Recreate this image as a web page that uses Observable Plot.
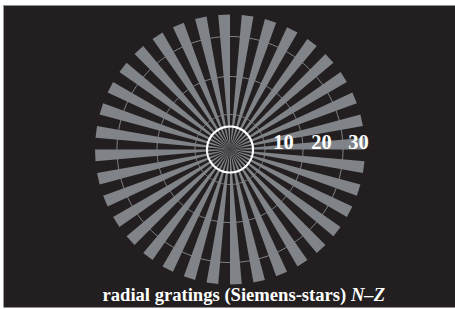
<!DOCTYPE html>
<html>
<head>
<meta charset="utf-8">
<script src="https://cdn.jsdelivr.net/npm/d3@7"></script>
<script src="https://cdn.jsdelivr.net/npm/@observablehq/plot@0.6"></script>
<style>
  html, body { margin: 0; padding: 0; background: #ffffff; }
  #chart svg { display: block; }
</style>
</head>
<body>
<div id="chart"></div>
<script>
// ---- data ----
const spokeCount = 36;          // number of grey wedges
const spokeWidthDeg = 5;        // angular width of each wedge
const spokeOffsetDeg = 0;       // first wedge starts at 0°
const outerRadius = 135;        // wedge length
const ringRadii = [35, 73, 113];        // thin guide circles
const hubRadius = 23;                   // white inner circle
const ringLabels = ["10", "20", "30"];
const labelRadii = [53.5, 91.5, 128.5];
const captionMain = "radial gratings (Siemens-stars) ";
const captionItalic = "N\u2013Z";

// ---- styles ----
const bg = "#231f20";
const grey = "#808387";
const serif = "'Liberation Serif', 'DejaVu Serif', serif";

// ---- geometry built from the data ----
const rad = d => d * Math.PI / 180;
const spokes = [];
for (let k = 0; k < spokeCount; k++) {
  const a1 = rad(spokeOffsetDeg + k * 360 / spokeCount);
  const a2 = a1 + rad(spokeWidthDeg);
  spokes.push({k, x: 0, y: 0});
  spokes.push({k, x: outerRadius * Math.cos(a1), y: outerRadius * Math.sin(a1)});
  spokes.push({k, x: outerRadius * Math.cos(a2), y: outerRadius * Math.sin(a2)});
}
const circlePts = (r, id) => d3.range(0, 361, 2).map(a => ({id, x: r * Math.cos(rad(a)), y: r * Math.sin(rad(a))}));
const rings = ringRadii.flatMap((r, i) => circlePts(r, i));
const hub = circlePts(hubRadius, 0);
const labels = ringLabels.map((t, i) => ({t, x: labelRadii[i], y: 1}));
const captionRow = [{t: captionMain + captionItalic, x: -127.5, y: -151}];

const svg = Plot.plot({
  width: 455,
  height: 309,
  marginTop: 5,
  marginLeft: 3,
  marginRight: 0,
  marginBottom: 2,
  x: {domain: [-226.5, 225.5], axis: null},
  y: {domain: [-158, 144], axis: null},
  style: {background: "#ffffff"},
  marks: [
    Plot.frame({fill: bg, stroke: "none"}),
    Plot.ruleX([-226.5], {stroke: "#9a9a9a", strokeWidth: 1}),
    Plot.line(spokes, {x: "x", y: "y", z: "k", fill: grey, stroke: "none", curve: "linear-closed"}),
    Plot.line(rings, {x: "x", y: "y", z: "id", stroke: grey, strokeWidth: 1, fill: "none"}),
    Plot.line(hub, {x: "x", y: "y", stroke: "#ffffff", strokeWidth: 2.2, fill: "none"}),
    Plot.text(labels, {x: "x", y: "y", text: "t", fill: "#ffffff", fontSize: 20.5, fontWeight: "bold",
      fontFamily: serif, textAnchor: "middle", lineAnchor: "bottom"}),
    Plot.text(captionRow, {x: "x", y: "y", text: "t", fill: "#ffffff", fontSize: 18.6, fontWeight: "bold",
      fontFamily: serif, textAnchor: "start", lineAnchor: "bottom"})
  ]
});

// italicise N–Z in the caption
d3.select(svg).selectAll("text").each(function () {
  if (this.textContent === captionMain + captionItalic) {
    const t = d3.select(this);
    t.text(null);
    t.append("tspan").text(captionMain);
    t.append("tspan").attr("font-style", "italic").text(captionItalic);
  }
});

document.getElementById("chart").appendChild(svg);
</script>
</body>
</html>
